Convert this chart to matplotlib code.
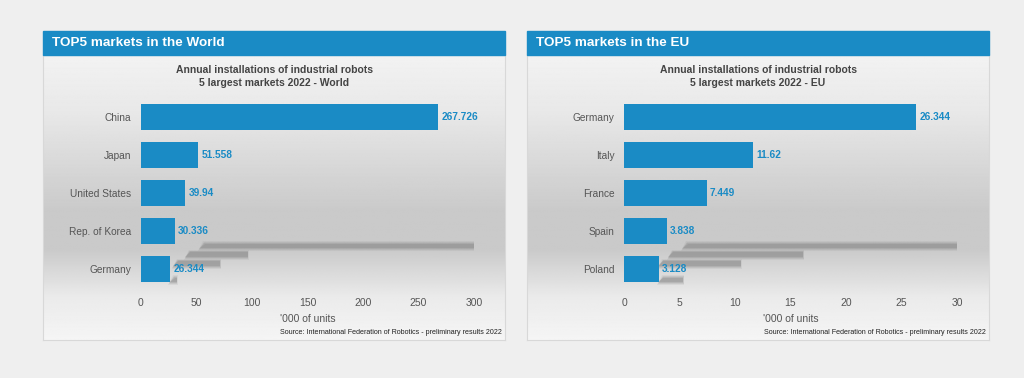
import numpy as np
import matplotlib

matplotlib.use('Agg')
import matplotlib.pyplot as plt
from matplotlib.patches import Rectangle, Polygon

plt.rcParams['font.family'] = ['Liberation Sans', 'DejaVu Sans']

W, H = 1024, 378

world_countries = ["China", "Japan", "United States", "Rep. of Korea", "Germany"]
world_values = [267.726, 51.558, 39.94, 30.336, 26.344]
world_labels = ["267.726", "51.558", "39.94", "30.336", "26.344"]
world_ticks = [0, 50, 100, 150, 200, 250, 300]

eu_countries = ["Germany", "Italy", "France", "Spain", "Poland"]
eu_values = [26.344, 11.62, 7.449, 3.838, 3.128]
eu_labels = ["26.344", "11.62", "7.449", "3.838", "3.128"]
eu_ticks = [0, 5, 10, 15, 20, 25, 30]

# grey "floor" shadows under the bars (start, end, row position)
world_shadow_start = [53, 40, 29, 26]
world_shadow_end = [300, 96, 71, 32]
eu_shadow_start = [5.3, 4.0, 3.1, 3.1]
eu_shadow_end = [30, 16.1, 10.5, 5.3]
shadow_rows = [3.39, 3.62, 3.86, 4.29]

BLUE = "#1a8bc5"
TXT = "#555555"


def fx(px):
    return px / W


def fy(py):
    return 1 - py / H


def draw_panel(fig, x0, x1, header, title, countries, values, labels, ticks,
               sh_start, sh_end, ax_x0, ax_x1, src_right):
    # panel body with vertical gradient
    bg = fig.add_axes([fx(x0), fy(340), fx(x1 - x0), (340 - 55) / H])
    grad = np.interp(np.linspace(0, 1, 300),
                     [0, 0.2, 0.55, 0.68, 0.85, 1.0],
                     [0.95, 0.91, 0.79, 0.79, 0.92, 0.96])
    bg.imshow(np.repeat(grad[:, None], 2, axis=1), cmap="gray", vmin=0, vmax=1,
              aspect="auto", extent=[0, 1, 0, 1])
    bg.set_xlim(0, 1)
    bg.set_ylim(0, 1)
    bg.set_xticks([])
    bg.set_yticks([])
    for s in bg.spines.values():
        s.set_color("#d8d8d8")
        s.set_linewidth(0.8)
    bg.set_zorder(0)

    # header bar
    fig.patches.append(Rectangle((fx(x0), fy(55)), fx(x1 - x0), 24 / H,
                                 transform=fig.transFigure, color=BLUE, zorder=1))
    fig.text(fx(x0 + 9), fy(43.5), header, color="white", fontsize=9.7,
             fontweight="bold", va="center", ha="left", zorder=2)

    cx = (x0 + x1) / 2
    fig.text(fx(cx), fy(70), title[0], color="#444444", fontsize=7.5,
             fontweight="bold", ha="center", va="center")
    fig.text(fx(cx), fy(83), title[1], color="#444444", fontsize=7.5,
             fontweight="bold", ha="center", va="center")

    ax = fig.add_axes([fx(ax_x0), fy(288), fx(ax_x1 - ax_x0), 190 / H])
    ax.set_zorder(2)
    ax.patch.set_visible(False)
    xmax = ticks[-1]

    # blurred, slanted grey shadow strips
    for s0, s1, r in zip(sh_start, sh_end, shadow_rows):
        skew = xmax * 0.015
        for grow, a in [(0.07, 0.10), (0.045, 0.15), (0.025, 0.2), (0.0, 0.25)]:
            h = 0.12 + grow * 2
            dx = xmax * grow * 0.06
            ax.add_patch(Polygon([(s0 + skew - dx, r - h / 2), (s1 + dx, r - h / 2),
                                  (s1 + dx, r + h / 2), (s0 - dx, r + h / 2)],
                                 closed=True, color="#7a7a7a", alpha=a, lw=0, zorder=1))

    y = np.arange(len(countries))
    ax.barh(y, values, height=0.71, color=BLUE, zorder=2)
    for yi, v, lab in zip(y, values, labels):
        ax.text(v + xmax * 0.01, yi, lab, color=BLUE, fontsize=7.3,
                fontweight="bold", va="center", ha="left", zorder=3)

    ax.set_ylim(len(countries) - 0.5, -0.5)
    ax.set_xlim(0, xmax)
    ax.set_yticks(y)
    ax.set_yticklabels(countries, fontsize=7.3, color=TXT)
    ax.set_xticks(ticks)
    ax.set_xticklabels([str(t) for t in ticks], fontsize=7.5, color=TXT)
    ax.tick_params(axis="both", length=0)
    ax.tick_params(axis="x", pad=7)
    ax.tick_params(axis="y", pad=7)
    for s in ax.spines.values():
        s.set_visible(False)

    fig.text(fx((ax_x0 + ax_x1) / 2), fy(319), "'000 of units", color=TXT,
             fontsize=7.5, ha="center", va="center")
    fig.text(fx(src_right), fy(332),
             "Source: International Federation of Robotics - preliminary results 2022",
             color="#222222", fontsize=5.1, ha="right", va="center")


fig = plt.figure(figsize=(W / 100, H / 100), dpi=100, facecolor="#efefef")

draw_panel(fig, 43, 505, "TOP5 markets in the World",
           ["Annual installations of industrial robots", "5 largest markets 2022 - World"],
           world_countries, world_values, world_labels, world_ticks,
           world_shadow_start, world_shadow_end, 141, 474, 502)

draw_panel(fig, 527, 989, "TOP5 markets in the EU",
           ["Annual installations of industrial robots", "5 largest markets 2022 - EU"],
           eu_countries, eu_values, eu_labels, eu_ticks,
           eu_shadow_start, eu_shadow_end, 624, 957, 986)

fig.savefig("out.png", dpi=100, facecolor=fig.get_facecolor())
